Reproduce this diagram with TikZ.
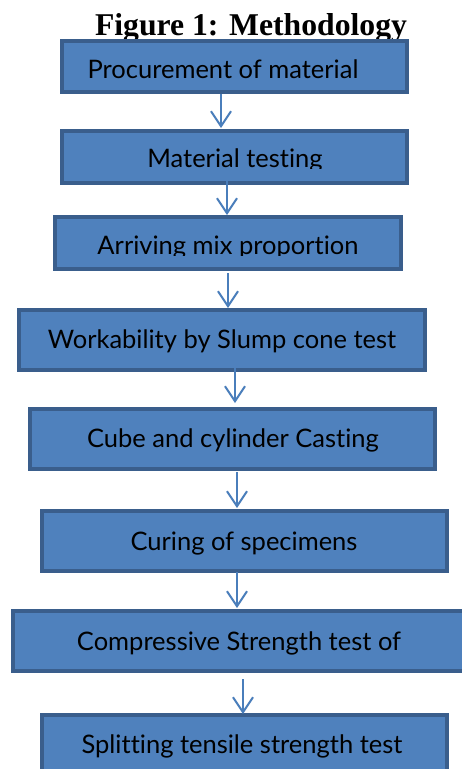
\documentclass[tikz,border=0pt]{standalone}
\usepackage{fontspec}
\setmainfont{Liberation Serif}
\newfontfamily\boxfont[Ligatures=NoCommon]{Lato}
\usetikzlibrary{arrows.meta}
\definecolor{boxfill}{HTML}{4F81BD}
\definecolor{boxline}{HTML}{3A5E8C}
\definecolor{arrcol}{HTML}{4A7EBB}
\tikzset{
  stepbox/.style={draw=boxline, fill=boxfill, line width=4pt, inner sep=0pt, rectangle},
  steptext/.style={anchor=base, inner sep=0pt, font=\boxfont\fontsize{25.5}{30}\selectfont, text=black},
  flowarrow/.style={draw=arrcol, line width=2pt, -{Straight Barb[length=15pt,width=20pt,line width=2pt]}},
}
\begin{document}
\begin{tikzpicture}[x=1pt,y=-1pt]
\clip (0,0) rectangle (462,769);
\fill[white] (0,0) rectangle (462,769);
\node[anchor=base, inner sep=0pt, font=\bfseries\fontsize{31.7}{36}\selectfont] (title) at (251,35) {Figure 1: Methodology};
% boxes: centre = ((x1+x2)/2,(y1+y2)/2), size = outer - 4
\node[stepbox, minimum width=345pt, minimum height=51pt] (b1) at (234.5,66.5) {};
\node[stepbox, minimum width=345pt, minimum height=52pt] (b2) at (234.5,157) {};
\node[stepbox, minimum width=346pt, minimum height=52pt] (b3) at (228,243) {};
\node[stepbox, minimum width=406pt, minimum height=60pt] (b4) at (222,340) {};
\node[stepbox, minimum width=405pt, minimum height=60pt] (b5) at (232.5,439) {};
\node[stepbox, minimum width=405pt, minimum height=60pt] (b6) at (244.5,541) {};
\node[stepbox, minimum width=455pt, minimum height=60pt] (b7) at (240.5,641) {};
\node[stepbox, minimum width=405pt, minimum height=63pt] (b8) at (244.5,746.5) {};
% texts
\node[steptext] (t1) at (223,78) {Procurement of material};
\begin{scope}
\clip (60,129) rectangle (409,168);
\node[steptext] (t2) at (235,167) {Material testing};
\end{scope}
\begin{scope}
\clip (53,215) rectangle (403,255.5);
\node[steptext] (t3) at (228,254) {Arriving mix proportion};
\end{scope}
\node[steptext] (t4) at (222,348) {Workability by Slump cone test};
\node[steptext] (t5) at (233,447) {Cube and cylinder Casting};
\node[steptext] (t6) at (244,550) {Curing of specimens};
\node[steptext] (t7) at (239,650) {Compressive Strength test of};
\node[steptext] (t8) at (242,753) {Splitting tensile strength test};
% arrows
\draw[flowarrow] ([xshift=-13.5pt]b1.south) -- ([xshift=-13.5pt,yshift=1pt]b2.north);
\draw[flowarrow] ([xshift=-7.5pt,yshift=4pt]b2.south) -- ([xshift=-1pt]b3.north);
\draw[flowarrow] ([xshift=0pt,yshift=-2pt]b3.south) -- ([xshift=6pt]b4.north);
\draw[flowarrow] ([xshift=13pt,yshift=4pt]b4.south) -- ([xshift=2.5pt,yshift=4pt]b5.north);
\draw[flowarrow] ([xshift=4.5pt,yshift=-1pt]b5.south) -- ([xshift=-7.5pt,yshift=1pt]b6.north);
\draw[flowarrow] ([xshift=-7.5pt,yshift=1pt]b6.south) -- ([xshift=-3.5pt,yshift=1pt]b7.north);
\draw[flowarrow] ([xshift=2.5pt,yshift=-6pt]b7.south) -- ([xshift=-1.5pt,yshift=-1pt]b8.north);
\end{tikzpicture}
\end{document}
